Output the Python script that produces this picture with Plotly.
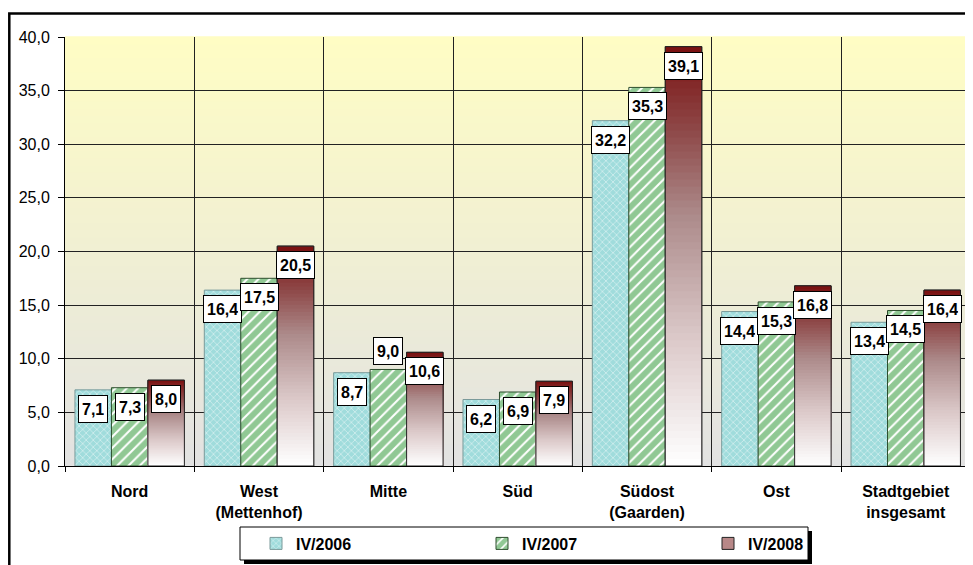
import plotly.graph_objects as go

# ---------------- data ----------------
categories = ["Nord", "West<br>(Mettenhof)", "Mitte", "Süd",
              "Südost<br>(Gaarden)", "Ost", "Stadtgebiet<br>insgesamt"]
series_names = ["IV/2006", "IV/2007", "IV/2008"]
v2006 = [7.1, 16.4, 8.7, 6.2, 32.2, 14.4, 13.4]
v2007 = [7.3, 17.5, 9.0, 6.9, 35.3, 15.3, 14.5]
v2008 = [8.0, 20.5, 10.6, 7.9, 39.1, 16.8, 16.4]
y_ticks = [0, 5, 10, 15, 20, 25, 30, 35, 40]

# ---------------- style ----------------
FONT = "Liberation Sans, Arial, sans-serif"
W, H = 965, 557          # page body has an 8px margin
ML, MR, MT, MB = 57, 0, 29, 99
BARGAP = 0.154
N_SEG = 60
LABEL_ABOVE = {(2, 1)}  # (category index, series index) labels placed above bar

pw = W - ML - MR
ph = H - MT - MB


def px(fx):
    return (fx - ML) / pw


def py(fy):
    return (H - MB - fy) / ph


def hex2rgb(h):
    h = h.lstrip("#")
    return tuple(int(h[i:i + 2], 16) for i in (0, 2, 4))


def interp(stops, t):
    for (p0, c0), (p1, c1) in zip(stops[:-1], stops[1:]):
        if p0 <= t <= p1:
            f = 0 if p1 == p0 else (t - p0) / (p1 - p0)
            a, b = hex2rgb(c0), hex2rgb(c1)
            r = [round(a[i] + (b[i] - a[i]) * f) for i in range(3)]
            return "rgb(%d,%d,%d)" % tuple(r)
    return stops[-1][1]


BG_STOPS = [(0.0, "#E2E2E2"), (1.0, "#FFFDC4")]
RED_STOPS = [(0.0, "#FFFFFF"), (0.3, "#DCCACA"), (0.6, "#AC8A8A"), (0.8, "#8E4848"), (1.0, "#7A1010")]


def fmt(v):
    return ("%.1f" % v).replace(".", ",")


fig = go.Figure()

# background gradient strips
NB = 60
for k in range(NB):
    fig.add_shape(type="rect", xref="paper", yref="paper", x0=0, x1=1,
                  y0=k / NB, y1=(k + 1) / NB + 0.002,
                  fillcolor=interp(BG_STOPS, (k + 0.5) / NB),
                  line=dict(width=0), layer="below")

fig.add_trace(go.Bar(
    x=categories, y=v2006, name=series_names[0], offsetgroup="a",
    marker=dict(color="#A0DCDC",
                pattern=dict(shape="x", fgcolor="white", bgcolor="#A0DCDC",
                             size=5, solidity=0.3),
                line=dict(color="#7A9A9A", width=1)),
    hoverinfo="x+y"))

fig.add_trace(go.Bar(
    x=categories, y=v2007, name=series_names[1], offsetgroup="b",
    marker=dict(color="#22922A",
                pattern=dict(shape="/", fgcolor="#22922A", bgcolor="white",
                             size=8, solidity=0.75),
                line=dict(color="#2E4E2E", width=1)),
    hoverinfo="x+y"))

# IV/2008 : legend trace, then gradient overlays (tallest first)
fig.add_trace(go.Bar(
    x=categories, y=v2008, name=series_names[2], offsetgroup="c",
    marker=dict(color="#B88888", line=dict(color="#222222", width=1)),
    hoverinfo="x+y"))
for k in range(N_SEG):
    frac = (N_SEG - k) / N_SEG
    fig.add_trace(go.Bar(
        x=categories, y=[v * frac for v in v2008], offsetgroup="c",
        marker=dict(color=interp(RED_STOPS, frac - 0.5 / N_SEG), line=dict(width=0)),
        showlegend=False, hoverinfo="skip"))
fig.add_trace(go.Bar(
    x=categories, y=v2008, offsetgroup="c",
    marker=dict(color="rgba(0,0,0,0)", line=dict(color="#222222", width=1)),
    showlegend=False, hoverinfo="skip"))

# value labels
w = (1 - BARGAP) / 3
for j, vals in enumerate([v2006, v2007, v2008]):
    for i, v in enumerate(vals):
        above = (i, j) in LABEL_ABOVE
        fig.add_annotation(
            x=i + (j - 1) * w, y=v, xref="x", yref="y",
            text="<b>%s</b>" % fmt(v), showarrow=False,
            yanchor="bottom" if above else "top",
            yshift=4 if above else -5,
            height=20,
            font=dict(family=FONT, size=16, color="black"),
            bgcolor="white", bordercolor="black", borderwidth=1, borderpad=3)

# outer frame
fig.add_shape(type="rect", xref="paper", yref="paper",
              x0=px(1.3), x1=1.3, y0=-0.5, y1=py(5.5),
              line=dict(color="black", width=2.5), fillcolor="rgba(0,0,0,0)")

# legend box with shadow
fig.add_shape(type="rect", xref="paper", yref="paper",
              x0=px(236), x1=px(804), y0=py(556), y1=py(523),
              fillcolor="black", line=dict(width=0))
fig.add_shape(type="rect", xref="paper", yref="paper",
              x0=px(232), x1=px(800), y0=py(552), y1=py(519),
              fillcolor="white", line=dict(color="black", width=1))

fig.update_layout(
    width=W, height=H, autosize=False,
    margin=dict(l=ML, r=MR, t=MT, b=MB, pad=0),
    barmode="group", bargap=BARGAP, bargroupgap=0,
    paper_bgcolor="white", plot_bgcolor="#F0EED8",
    separators=",.",
    font=dict(family=FONT, size=16, color="black"),
    showlegend=True,
    legend=dict(orientation="h", x=px(248), xanchor="left",
                y=py(518.5), yanchor="top",
                bgcolor="rgba(0,0,0,0)", borderwidth=0,
                font=dict(family=FONT, size=16, color="black", weight="bold"),
                entrywidth=181, entrywidthmode="pixels",
                traceorder="normal"),
    xaxis=dict(type="category", range=[-0.5, 6.52], tickson="boundaries",
               showgrid=True, gridcolor="#222222", gridwidth=1,
               ticks="outside", ticklen=5, tickcolor="black",
               showline=True, linecolor="black", linewidth=1,
               tickfont=dict(family=FONT, size=16, color="black", weight="bold"),
               ticklabelstandoff=11, fixedrange=True),
    yaxis=dict(range=[0, 40], tickvals=y_ticks, tickformat=".1f",
               showgrid=True, gridcolor="#222222", gridwidth=1,
               ticks="outside", ticklen=6, tickcolor="black",
               showline=True, linecolor="black", linewidth=1,
               zeroline=False,
               tickfont=dict(family=FONT, size=16, color="black"),
               ticklabelstandoff=5, fixedrange=True),
)

fig.write_html("out.html")
